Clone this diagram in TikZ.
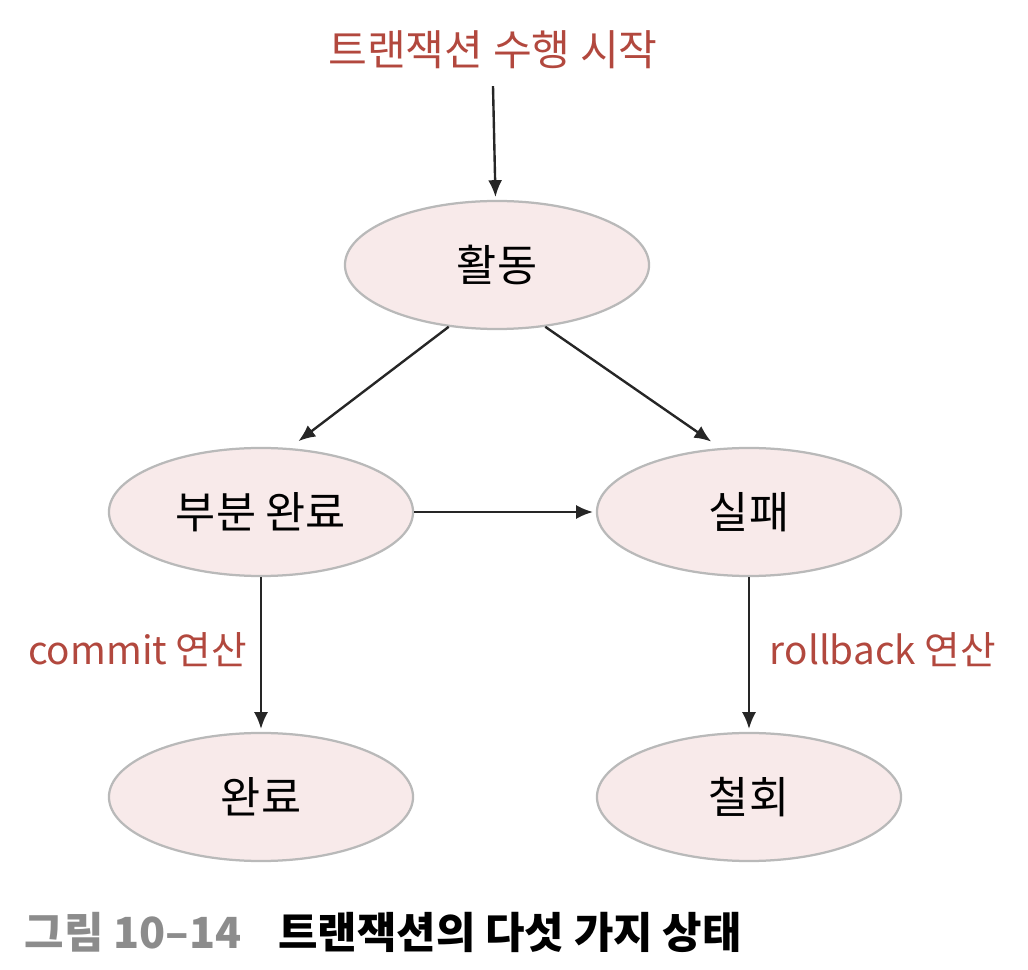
\documentclass[tikz,border=0pt]{standalone}
\usepackage{fontspec}
\setmainfont{Noto Sans CJK KR}
\usetikzlibrary{positioning,shapes,arrows,arrows.meta}
\definecolor{stfill}{RGB}{248,234,234}
\definecolor{stline}{RGB}{185,185,185}
\definecolor{opred}{RGB}{178,72,62}
\definecolor{capgray}{RGB}{140,140,140}
\tikzset{
  state/.style={draw=stline, line width=1.6pt, fill=stfill, ellipse,
    minimum width=7.6cm, minimum height=3.2cm, inner sep=0pt,
    font=\fontsize{31}{36}\selectfont},
  oplabel/.style={text=opred, font=\fontsize{27.5}{32}\selectfont},
  trans/.style={-{Latex[length=12pt,width=10pt]}, line width=1.7pt, black!85, shorten >=2pt}
}
\begin{document}
\begin{tikzpicture}[x=0.025cm, y=-0.025cm]
\useasboundingbox (0,0) rectangle (1028,970);
\node[oplabel, font=\fontsize{30}{34}\selectfont] (nstart) at (493,50) {트랜잭션 수행 시작};
\node[state] (nact) at (497,265) {활동};
\node[state] (npart) at (261,512) {부분 완료};
\node[state] (nfail) at (749,512) {실패};
\node[state] (ncommit) at (261,797) {완료};
\node[state] (nabort) at (749,797) {철회};
\node[oplabel, anchor=east] (lcommit) at (252,650) {commit 연산};
\node[oplabel, anchor=west] (lrollback) at (765,650) {rollback 연산};
\node[anchor=west, font=\bfseries\fontsize{30.5}{35}\selectfont] (ncap) at (20,932)
  {\textcolor{capgray}{그림 10–14}\hspace{0.85em}트랜잭션의 다섯 가지 상태};
\draw[trans] ([yshift=-0.3cm]nstart.south) -- (nact);
\path (nact.232) edge[trans, shorten >=8pt] (npart.66)
(nact.308) edge[trans, shorten >=8pt] (nfail.114)
(npart) edge[trans] (nfail)
(npart) edge[trans] (ncommit)
(nfail) edge[trans] (nabort);
\end{tikzpicture}
\end{document}
